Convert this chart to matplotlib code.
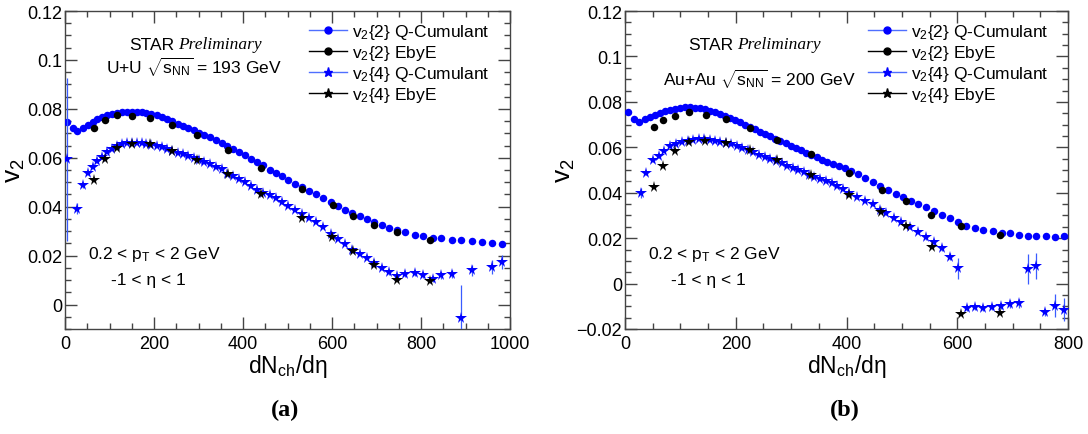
import matplotlib
matplotlib.use('Agg')
import matplotlib.pyplot as plt
from matplotlib.lines import Line2D
from matplotlib.ticker import MultipleLocator, FuncFormatter

plt.rcParams['font.family'] = ['Liberation Sans', 'DejaVu Sans']
plt.rcParams['mathtext.fontset'] = 'custom'
plt.rcParams['mathtext.rm'] = 'Liberation Sans'
plt.rcParams['mathtext.it'] = 'Liberation Sans:italic'
plt.rcParams['mathtext.bf'] = 'Liberation Sans:bold'

# ---------------- Panel (a): U+U 193 GeV ----------------
a_v22qc_x = [5, 17, 28, 40, 51, 62, 73, 84, 95, 106, 117, 128, 139, 150, 161, 172, 183, 194,
             206, 217, 229, 241, 253, 265, 277, 289, 301, 313, 326, 339, 352, 365, 378, 391,
             404, 418, 432, 446, 460, 474, 488, 502, 517, 532, 548, 564, 580, 597, 614, 630,
             646, 662, 678, 695, 712, 729, 746, 764, 787, 805, 828, 846, 870, 891, 914, 936,
             960, 983]
a_v22qc_y = [0.0748, 0.0722, 0.0710, 0.0722, 0.0735, 0.0748, 0.0760, 0.0768, 0.0775, 0.0780,
             0.0785, 0.0788, 0.0789, 0.0789, 0.0789, 0.0787, 0.0784, 0.0780, 0.0774, 0.0767,
             0.0758, 0.0749, 0.0740, 0.0731, 0.0722, 0.0712, 0.0703, 0.0693, 0.0683, 0.0672,
             0.0661, 0.0649, 0.0637, 0.0624, 0.0611, 0.0597, 0.0583, 0.0569, 0.0552, 0.0538,
             0.0524, 0.0508, 0.0494, 0.0480, 0.0466, 0.0451, 0.0436, 0.0420, 0.0403, 0.0388,
             0.0374, 0.0361, 0.0348, 0.0336, 0.0325, 0.0314, 0.0304, 0.0295, 0.0285, 0.0280,
             0.0274, 0.0271, 0.0265, 0.0262, 0.0259, 0.0256, 0.0253, 0.0246]

a_v22eb_x = [66, 89, 117, 151, 192, 240, 297, 366, 441, 532, 602, 647, 695, 745, 820]
a_v22eb_y = [0.0723, 0.0753, 0.0776, 0.0771, 0.0763, 0.0732, 0.0692, 0.0633, 0.0559, 0.0473,
             0.0405, 0.0362, 0.0327, 0.0297, 0.0265]

a_v24qc_x = [5, 28, 40, 51, 62, 73, 84, 95, 106, 117, 128, 139, 150, 161, 172, 183, 194, 206,
             217, 229, 241, 253, 265, 277, 289, 301, 313, 326, 339, 352, 365, 378, 391, 404,
             418, 432, 446, 460, 474, 488, 502, 517, 532, 548, 564, 580, 597, 614, 630, 646,
             662, 678, 695, 712, 729, 746, 764, 787, 805, 828, 846, 870, 891, 914, 960, 983]
a_v24qc_y = [0.0593, 0.0392, 0.0488, 0.0537, 0.0563, 0.0585, 0.0605, 0.0623, 0.0637, 0.0647,
             0.0655, 0.0660, 0.0662, 0.0662, 0.0660, 0.0657, 0.0653, 0.0648, 0.0642, 0.0636,
             0.0628, 0.0621, 0.0614, 0.0606, 0.0598, 0.0590, 0.0582, 0.0573, 0.0563, 0.0553,
             0.0535, 0.0524, 0.0512, 0.0499, 0.0486, 0.0470, 0.0457, 0.0446, 0.0435, 0.0418,
             0.0402, 0.0387, 0.0370, 0.0353, 0.0336, 0.0318, 0.0290, 0.0268, 0.0247, 0.0224,
             0.0208, 0.0189, 0.0168, 0.0148, 0.0131, 0.0115, 0.0124, 0.0128, 0.0120, 0.0106,
             0.0119, 0.0126, -0.0057, 0.0140, 0.0154, 0.0174]
a_v24qc_err = [0.0335, 0.0022, 0.0010, 0.0008, 0.0006, 0.0005, 0.0005, 0.0004, 0.0004, 0.0004,
               0.0004, 0.0004, 0.0004, 0.0004, 0.0004, 0.0004, 0.0004, 0.0004, 0.0004, 0.0004,
               0.0004, 0.0004, 0.0004, 0.0004, 0.0004, 0.0004, 0.0004, 0.0004, 0.0004, 0.0004,
               0.0004, 0.0004, 0.0004, 0.0004, 0.0004, 0.0004, 0.0004, 0.0004, 0.0005, 0.0005,
               0.0005, 0.0005, 0.0005, 0.0005, 0.0005, 0.0006, 0.0006, 0.0006, 0.0006, 0.0007,
               0.0007, 0.0007, 0.0008, 0.0008, 0.0009, 0.0009, 0.0010, 0.0010, 0.0011, 0.0012,
               0.0014, 0.0016, 0.0135, 0.0022, 0.0030, 0.0028]

a_v24eb_x = [66, 89, 117, 151, 192, 240, 297, 366, 441, 532, 599, 647, 695, 745, 820]
a_v24eb_y = [0.0510, 0.0593, 0.0641, 0.0656, 0.0655, 0.0627, 0.0592, 0.0532, 0.0453, 0.0355,
             0.0278, 0.0218, 0.0160, 0.0100, 0.0095]

# ---------------- Panel (b): Au+Au 200 GeV ----------------
b_v22qc_x = [5, 16, 26, 36, 45, 54, 63, 72, 81, 90, 99, 108, 117, 126, 135, 144, 153, 162,
             171, 180, 189, 198, 207, 216, 225, 234, 243, 252, 262, 271, 280, 290, 299, 308,
             318, 327, 336, 347, 356, 365, 376, 386, 397, 408, 420, 433, 447, 460, 475, 489,
             502, 517, 530, 544, 558, 573, 587, 601, 616, 632, 647, 664, 680, 695, 712, 727,
             743, 761, 777, 792]
b_v22qc_y = [0.0757, 0.0724, 0.0713, 0.0724, 0.0732, 0.0742, 0.0751, 0.0758, 0.0765, 0.0770,
             0.0774, 0.0776, 0.0776, 0.0774, 0.0771, 0.0767, 0.0761, 0.0754, 0.0746, 0.0739,
             0.0729, 0.0720, 0.0710, 0.0699, 0.0690, 0.0679, 0.0669, 0.0659, 0.0649, 0.0638,
             0.0628, 0.0618, 0.0607, 0.0597, 0.0587, 0.0577, 0.0568, 0.0557, 0.0546, 0.0535,
             0.0525, 0.0516, 0.0507, 0.0497, 0.0482, 0.0463, 0.0446, 0.0431, 0.0411, 0.0396,
             0.0380, 0.0365, 0.0350, 0.0335, 0.0318, 0.0302, 0.0287, 0.0270, 0.0255, 0.0243,
             0.0236, 0.0230, 0.0222, 0.0221, 0.0214, 0.0211, 0.0211, 0.0208, 0.0206, 0.0208]

b_v22eb_x = [53, 69, 90, 115, 146, 182, 225, 275, 335, 405, 464, 507, 553, 607, 677]
b_v22eb_y = [0.0688, 0.0719, 0.0739, 0.0754, 0.0740, 0.0724, 0.0686, 0.0633, 0.0570, 0.0487,
             0.0413, 0.0365, 0.0303, 0.0252, 0.0216]

b_v24qc_x = [28, 38, 50, 61, 71, 82, 93, 103, 113, 123, 133, 143, 153, 162, 172, 182, 192,
             202, 212, 222, 232, 242, 252, 262, 272, 283, 293, 303, 312, 323, 333, 342, 353,
             363, 373, 383, 393, 405, 419, 433, 447, 460, 472, 486, 499, 514, 529, 543, 558,
             573, 587, 601, 617, 632, 647, 663, 679, 695, 711, 727, 743, 759, 777, 792]
b_v24qc_y = [0.0399, 0.0487, 0.0545, 0.0560, 0.0585, 0.0604, 0.0614, 0.0624, 0.0629, 0.0633,
             0.0636, 0.0636, 0.0633, 0.0629, 0.0624, 0.0619, 0.0613, 0.0604, 0.0595, 0.0588,
             0.0578, 0.0567, 0.0558, 0.0548, 0.0539, 0.0529, 0.0519, 0.0509, 0.0500, 0.0490,
             0.0479, 0.0470, 0.0460, 0.0450, 0.0441, 0.0431, 0.0418, 0.0398, 0.0380, 0.0365,
             0.0350, 0.0325, 0.0310, 0.0288, 0.0272, 0.0250, 0.0228, 0.0203, 0.0181, 0.0156,
             0.0118, 0.0067, -0.0108, -0.0105, -0.0109, -0.0102, -0.0098, -0.0090, -0.0087,
             0.0064, 0.0076, -0.0127, -0.0098, -0.0115]
b_v24qc_err = [0.0022, 0.0010, 0.0008, 0.0006, 0.0005, 0.0005, 0.0005, 0.0005, 0.0005, 0.0005,
               0.0005, 0.0005, 0.0005, 0.0005, 0.0005, 0.0005, 0.0005, 0.0005, 0.0005, 0.0005,
               0.0005, 0.0005, 0.0005, 0.0005, 0.0005, 0.0005, 0.0005, 0.0005, 0.0005, 0.0005,
               0.0006, 0.0006, 0.0006, 0.0006, 0.0006, 0.0006, 0.0007, 0.0007, 0.0007, 0.0008,
               0.0008, 0.0008, 0.0009, 0.0009, 0.0010, 0.0010, 0.0011, 0.0012, 0.0012, 0.0014,
               0.0016, 0.0046, 0.0012, 0.0012, 0.0012, 0.0013, 0.0014, 0.0016, 0.0020, 0.0068,
               0.0057, 0.0015, 0.0050, 0.0050]

b_v24eb_x = [53, 69, 90, 115, 145, 182, 225, 275, 335, 405, 463, 507, 554, 607, 677]
b_v24eb_y = [0.0424, 0.0519, 0.0582, 0.0624, 0.0626, 0.0619, 0.0589, 0.0545, 0.0478, 0.0390,
             0.0313, 0.0252, 0.0159, -0.0134, -0.0130]

legend_labels = [r'v$_{2}${2} Q-Cumulant', r'v$_{2}${2} EbyE',
                 r'v$_{2}${4} Q-Cumulant', r'v$_{2}${4} EbyE']

W, H = 1088, 435
fig = plt.figure(figsize=(W / 100, H / 100), dpi=100)

BLUE = '#0000ff'
EBLUE = '#3a5cff'
FRAME = '#444444'
FS = 12.5
MS_C = 5.4
MS_S = 8.5


def fx(x):
    return x / W


def fy(y):
    return 1 - y / H


def fmt(v, pos):
    s = '%g' % round(v, 4)
    return s.replace('-', '\u2212')


def panel(rect, xmax, ymin, d22qc, d22eb, d24qc, d24eb):
    ax = fig.add_axes(rect)
    ax.plot(d22qc[0], d22qc[1], 'o', color=BLUE, ms=MS_C, mew=0, zorder=3)
    ax.plot(d22eb[0], d22eb[1], 'o', color='black', ms=MS_C, mew=0, zorder=4)
    ax.errorbar(d24qc[0], d24qc[1], yerr=d24qc[2], fmt='*', color=BLUE, ecolor=EBLUE,
                elinewidth=0.9, capsize=1.5, capthick=0.8, ms=MS_S, mew=0, zorder=5)
    ax.plot(d24eb[0], d24eb[1], '*', color='black', ms=MS_S, mew=0, zorder=6)
    ax.set_xlim(0, xmax)
    ax.set_ylim(ymin, 0.12)
    ax.xaxis.set_major_locator(MultipleLocator(200))
    ax.xaxis.set_minor_locator(MultipleLocator(50))
    ax.yaxis.set_major_locator(MultipleLocator(0.02))
    ax.yaxis.set_minor_locator(MultipleLocator(0.005))
    ax.yaxis.set_major_formatter(FuncFormatter(fmt))
    ax.tick_params(which='both', direction='in', top=True, right=True, colors=FRAME,
                   labelcolor='black', labelsize=FS + 0.5, width=1)
    ax.tick_params(which='major', length=8.5)
    ax.tick_params(which='minor', length=4.3)
    ax.tick_params(axis='y', pad=2)
    ax.tick_params(axis='x', pad=4)
    for s in ax.spines.values():
        s.set_color(FRAME)
        s.set_linewidth(1)
    ax.set_ylabel(r'v$_{2}$', fontsize=19, labelpad=0)
    ax.set_xlabel(r'dN$_{\mathrm{ch}}$/dη', fontsize=16.5, labelpad=0)
    return ax


axa = panel([fx(65), fy(330), fx(445), 318 / H], 1000, -0.01,
            (a_v22qc_x, a_v22qc_y), (a_v22eb_x, a_v22eb_y),
            (a_v24qc_x, a_v24qc_y, a_v24qc_err), (a_v24eb_x, a_v24eb_y))
axb = panel([fx(625), fy(330), fx(443), 318 / H], 800, -0.02,
            (b_v22qc_x, b_v22qc_y), (b_v22eb_x, b_v22eb_y),
            (b_v24qc_x, b_v24qc_y, b_v24qc_err), (b_v24eb_x, b_v24eb_y))

handles = [
    Line2D([], [], color='#4f6fff', lw=1, marker='o', ms=5, mfc=BLUE, mec=BLUE),
    Line2D([], [], color='black', lw=1, marker='o', ms=5, mfc='black', mec='black'),
    Line2D([], [], color='#4f6fff', lw=1, marker='*', ms=6.5, mfc=BLUE, mec=BLUE),
    Line2D([], [], color='black', lw=1, marker='*', ms=6.5, mfc='black', mec='black'),
]

for ax, lx in ((axa, 309), (axb, 868)):
    ax.legend(handles, legend_labels, loc='upper left', bbox_to_anchor=(fx(lx), fy(23)),
              bbox_transform=fig.transFigure, frameon=False, borderpad=0, borderaxespad=0,
              handlelength=2.2, handletextpad=0.3, labelspacing=0.12, fontsize=FS)

# annotations
for (sx, lx_, ly, ltxt, px_, ex_) in (
        (174, 194, 67, r'U+U $\sqrt{\mathrm{s}_{\mathrm{NN}}}$ = 193 GeV', 154, 148),
        (733, 760, 79, r'Au+Au $\sqrt{\mathrm{s}_{\mathrm{NN}}}$ = 200 GeV', 714, 708)):
    fig.text(fx(sx), fy(45), 'STAR', ha='right', va='center', fontsize=FS)
    fig.text(fx(sx + 4), fy(45), 'Preliminary', ha='left', va='center', fontsize=FS,
             family='Liberation Serif', style='italic')
    fig.text(fx(lx_), fy(ly), ltxt, ha='center', va='center', fontsize=FS)
    fig.text(fx(px_), fy(255), r'0.2 < p$_{\mathrm{T}}$ < 2 GeV', ha='center', va='center',
             fontsize=FS)
    fig.text(fx(ex_), fy(280), '-1 < η < 1', ha='center', va='center', fontsize=FS)

fig.text(fx(285), fy(410), '(a)', ha='center', va='center', fontsize=17.5,
         family='Liberation Serif', weight='bold')
fig.text(fx(845), fy(410), '(b)', ha='center', va='center', fontsize=17.5,
         family='Liberation Serif', weight='bold')

fig.savefig('out.png', dpi=100)
